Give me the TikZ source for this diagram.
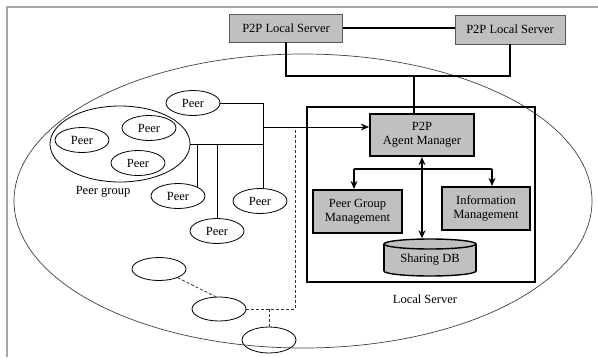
\documentclass[tikz,border=0pt]{standalone}
\usepackage{fontspec}
\setmainfont{Liberation Serif}
\usetikzlibrary{shapes.geometric,arrows.meta}
\definecolor{boxgray}{RGB}{192,192,192}
\definecolor{framegray}{RGB}{165,165,165}
\begin{document}
\begin{tikzpicture}[x=1pt,y=-1pt, font=\fontsize{12.5}{14}\selectfont,
  thinline/.style={line width=0.8pt},
  thickline/.style={line width=2.2pt},
  dashline/.style={line width=0.8pt, dash pattern=on 3pt off 2pt, black!80},
  server/.style={draw=black!65, line width=0.9pt, fill=boxgray, minimum width=113pt, minimum height=28pt, inner sep=0pt},
  mgr/.style={draw, line width=2.2pt, fill=boxgray, align=center, inner sep=0pt},
  peer/.style={ellipse, draw, line width=0.8pt, minimum width=54pt, minimum height=25pt, inner sep=0pt},
  dbcap/.style={ellipse, draw, line width=1.4pt, fill=boxgray, minimum width=92pt, minimum height=10pt, inner sep=0pt},
  tip/.style={-{Stealth[length=8pt,width=7pt]}}]
\useasboundingbox (0,0) rectangle (598,357);
\draw[framegray, line width=1.5pt] (7,357) -- (7,7) -- (598,7);

% world ellipse
\node[ellipse, draw=black!75, line width=0.7pt, minimum width=578pt, minimum height=294pt, inner sep=0pt] (world) at (303,201) {};

% servers
\node[server] (s1) at (286,28) {P2P Local Server};
\node[server, minimum width=110pt, minimum height=29pt] (s2) at (510,29.5) {P2P Local Server};

% local server
\node[draw, line width=2.2pt, minimum width=228pt, minimum height=175pt, inner sep=0pt] (ls) at (421,194.5) {};
\node (lslabel) at (425,299) {Local Server};
\node[mgr, minimum width=104pt, minimum height=42pt] (am) at (422,135) {P2P\\Agent Manager};
\node[mgr, minimum width=89pt, minimum height=43pt] (pgm) at (357.5,211.5) {Peer Group\\Management};
\node[mgr, minimum width=88pt, minimum height=43pt] (im) at (486,208.5) {Information\\Management};

% sharing DB cylinder
\node[dbcap] (dbbot) at (430,271) {};
\fill[boxgray] (384,244) rectangle (476,271);
\draw[line width=1.4pt] (384,244) -- (384,271) (476,244) -- (476,271);
\node[dbcap] (dbtop) at (430,244) {};
\node (db) at (430,260) {Sharing DB};

% server connectors
\coordinate (tl) at (286,76);
\coordinate (tr) at (510,76);
\coordinate (tm) at (414,76);
\draw[thickline] (s1.east) -- (s1.east -| s2.west);
\draw[thickline] (s1.south) -- (tl) -- (tr) -- (s2.south);
\draw[thickline] (tm) -- (tm |- am.north);

% internal arrows
\coordinate (bl) at (354,169);
\coordinate (br) at (492,169);
\draw[thickline] (bl) -- (br);
\draw[thickline, tip] (bl) -- (bl |- pgm.north);
\draw[thickline, tip] (br) -- (br |- im.north);
\draw[thickline, {Stealth[length=8pt,width=7pt]}-{Stealth[length=8pt,width=7pt]}] (am.south) -- (am.south |- dbtop.north);

% peers
\node[ellipse, draw, line width=0.8pt, minimum width=140pt, minimum height=76pt, inner sep=0pt] (pg) at (120,144) {};
\node (pglabel) at (103,192) {Peer group};
\node[peer] (pa) at (82,140) {Peer};
\node[peer] (pb) at (149,128) {Peer};
\node[peer] (pc) at (138,163) {Peer};
\node[peer] (pt) at (193,103) {Peer};
\node[peer] (pd) at (178,196) {Peer};
\node[peer] (pe) at (217,231) {Peer};
\node[peer] (pf) at (260,201) {Peer};

% tree
\coordinate (ja) at (263,104);
\coordinate (jb) at (263,127);
\coordinate (jc) at (263,144);
\coordinate (jd) at (197,144);
\coordinate (je) at (218,144);
\draw[thinline] (pt.east) -- (pt.east -| ja) -- (ja |- pf.north);
\draw[thinline, tip] (jb) -- (jb -| am.west);
\draw[thinline] (pg.east) -- (pg.east -| jc);
\draw[thinline] (pd.25) -- (pd.25 |- jd);
\draw[thinline] (pe.north) -- (pe.north |- je);

% unnamed peers
\node[peer, minimum height=23pt] (e1) at (159,269) {};
\node[peer, minimum height=24pt] (e2) at (219,309) {};
\node[peer, minimum height=26pt] (e3) at (269,340) {};
\coordinate (da) at (295,128);
\draw[dashline] (e2.east) -- (e2.east -| da) -- (da);
\draw[dashline] (e3.north) -- (e3.north |- e2.east);
\draw[dashline] (e1.-25) -- (e2.105);
\end{tikzpicture}
\end{document}
